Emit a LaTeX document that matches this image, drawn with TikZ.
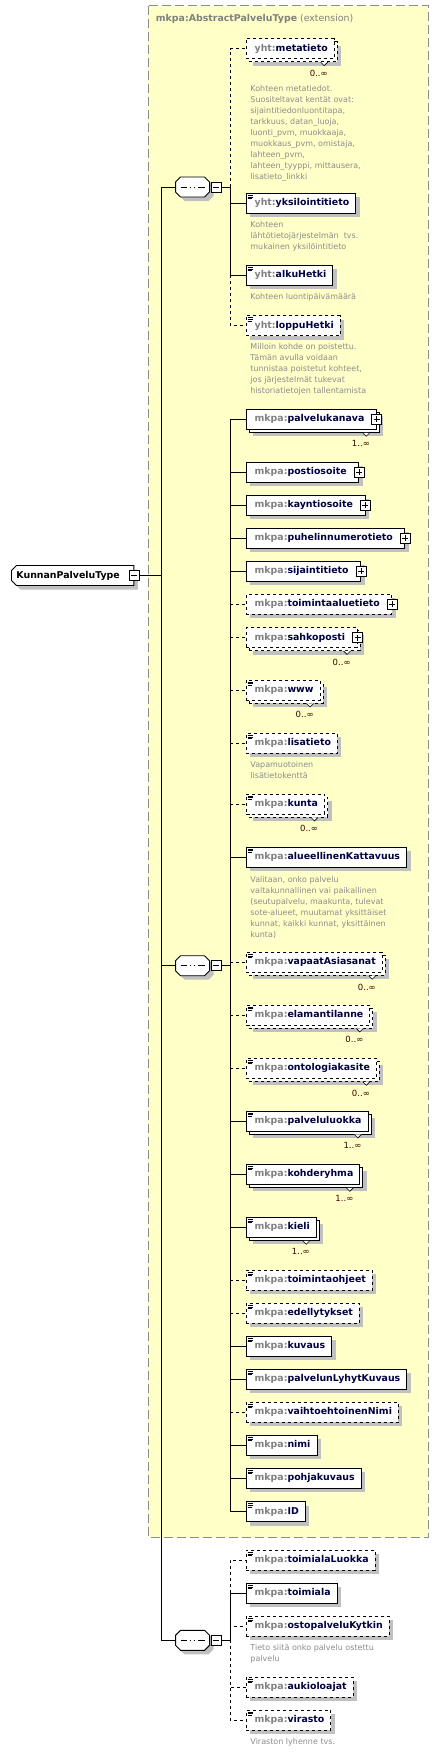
\documentclass[tikz,border=0pt]{standalone}
\usepackage{fontspec}
\setmainfont{DejaVu Sans}
\usepackage{tikz}
\usetikzlibrary{positioning,shapes.misc,shadows}

\definecolor{panel}{HTML}{FFFFC8}
\definecolor{panelline}{HTML}{8C8C8C}
\definecolor{shade}{HTML}{C0C0C0}
\definecolor{prefix}{HTML}{808080}
\definecolor{elemtext}{HTML}{000040}
\definecolor{doctext}{HTML}{8C8C8C}
\definecolor{cardtext}{HTML}{400000}

\newcommand{\mkpa}[1]{\textcolor{prefix}{mkpa:}#1}
\newcommand{\yht}[1]{\textcolor{prefix}{yht:}#1}

\begin{document}
\begin{tikzpicture}[x=1pt,y=-1pt,line width=0.9pt,
    elem/.style={draw,fill=white,anchor=west,minimum height=20pt,inner xsep=6.5pt,inner ysep=0pt,
        text=elemtext,font=\fontsize{9.4}{11}\selectfont\bfseries,execute at begin node={\hspace*{2pt}}},
    opt/.style={dashed},
    single/.style={drop shadow={shadow xshift=4pt,shadow yshift=-4pt,opacity=1,fill=shade}},
    multi/.style={drop shadow={shadow xshift=7pt,shadow yshift=-7pt,opacity=1,fill=shade},
        copy shadow={shadow xshift=3pt,shadow yshift=-3pt,fill=white,draw=black,#1}},
    multi/.default=solid,
    haskids/.style={execute at end node={\hspace*{5.5pt}}},
    simple/.style={path picture={\draw[solid,line width=0.5pt]
        ([shift={(1.5pt,-1.8pt)}]path picture bounding box.north west) -- ++(5.5pt,0pt)
        ([shift={(1.5pt,-3.6pt)}]path picture bounding box.north west) -- ++(5.5pt,0pt)
        ([shift={(1.5pt,-5.4pt)}]path picture bounding box.north west) -- ++(4pt,0pt);}},
    card/.style={anchor=north east,xshift=-6.5pt,yshift=-10.5pt,inner sep=0pt,text=cardtext,
        font=\fontsize{8.5}{10}\selectfont},
    doc/.style={anchor=north west,inner sep=0pt,align=left,text=doctext,font=\fontsize{8}{11}\selectfont},
    plusbox/.style={draw,solid,fill=white,minimum size=10pt,inner sep=0pt,line width=0.7pt,
        path picture={\draw ([xshift=2pt]path picture bounding box.west) -- ([xshift=-2pt]path picture bounding box.east)
            ([yshift=-2pt]path picture bounding box.north) -- ([yshift=2pt]path picture bounding box.south);}},
    minusbox/.style={draw,fill=white,minimum size=10pt,inner sep=0pt,line width=0.7pt,
        path picture={\draw ([xshift=2pt]path picture bounding box.west) -- ([xshift=-2pt]path picture bounding box.east);}},
    vmark/.style={solid,line width=0.6pt,fill=white},
    root/.style={chamfered rectangle,chamfered rectangle corners={north west,south west},chamfered rectangle xsep=2pt,
        chamfered rectangle ysep=3pt,draw,fill=white,anchor=west,minimum height=20pt,inner xsep=3pt,inner ysep=0pt,
        font=\fontsize{9.4}{11}\selectfont\bfseries,execute at end node={\hspace*{9pt}},
        drop shadow={shadow xshift=4pt,shadow yshift=-4pt,opacity=1,fill=shade}},
    seq/.style={minimum width=34pt,minimum height=20pt,inner sep=0pt},
    seqline/.style={draw,fill=white,
        drop shadow={shadow xshift=4pt,shadow yshift=-4pt,opacity=1,fill=shade},
        path picture={\draw[line width=0.7pt] ([xshift=5pt]path picture bounding box.west) -- ([xshift=-5pt]path picture bounding box.east);
            \fill ([xshift=-4pt]path picture bounding box.center) +(-1.4pt,-1.4pt) rectangle +(1.4pt,1.4pt);
            \fill (path picture bounding box.center) +(-1.4pt,-1.4pt) rectangle +(1.4pt,1.4pt);
            \fill ([xshift=4pt]path picture bounding box.center) +(-1.4pt,-1.4pt) rectangle +(1.4pt,1.4pt);}}]

    \useasboundingbox (0,0) rectangle (439,1753);

    % extension panel
    \fill[panel] (148.3,5.7) rectangle (428.3,1537.3);
    \draw[panelline,line width=1pt,dash pattern=on 9pt off 4pt] (148.3,5.7) rectangle (428.3,1537.3);
    \node[anchor=west,inner sep=0pt,text=prefix,font=\fontsize{9.4}{11}\selectfont] (title) at (155.5,19)
        {\textbf{mkpa:AbstractPalveluType} (extension)};

    % root and sequences
    \node[root] (kpt) at (11,575.5) {KunnanPalveluType};
    \node[minusbox] (kptm) at (kpt.east) {};
    \node[seq] (seqA) at (193,187) {};
    \node[seq] (seqB) at (193,965.7) {};
    \node[seq] (seqC) at (193,1640.3) {};
    \filldraw[seqline] (seqA.west) ++(0,-5) -- ++(5,-5) -- ++(24,0) -- ++(5,5) -- ++(0,10) -- ++(-5,5) -- ++(-24,0) -- ++(-5,-5) -- cycle;
    \filldraw[seqline] (seqB.west) ++(0,-5) -- ++(5,-5) -- ++(24,0) -- ++(5,5) -- ++(0,10) -- ++(-5,5) -- ++(-24,0) -- ++(-5,-5) -- cycle;
    \filldraw[seqline] (seqC.west) ++(0,-5) -- ++(5,-5) -- ++(24,0) -- ++(5,5) -- ++(0,10) -- ++(-5,5) -- ++(-24,0) -- ++(-5,-5) -- cycle;
    \node[minusbox,right=0.3pt of seqA] (seqAm) {};
    \node[minusbox,right=0.3pt of seqB] (seqBm) {};
    \node[minusbox,right=0.3pt of seqC] (seqCm) {};

    \coordinate (trunk) at (161,575.5);
    \coordinate (jA) at (230,187);
    \coordinate (jB) at (230,965.7);
    \coordinate (jC) at (230,1640.3);

    % first sequence
    \node[elem,opt,multi=dashed,label={[card]south east:0..∞}] (metatieto) at (245.7,48.7) {\yht{metatieto}};
    \node[elem,single,simple] (yksilointitieto) at (245.7,203.3) {\yht{yksilointitieto}};
    \node[elem,single,simple] (alkuHetki) at (245.7,275.3) {\yht{alkuHetki}};
    \node[elem,opt,single,simple] (loppuHetki) at (245.7,325.5) {\yht{loppuHetki}};

    \node[doc,below right=25.5pt and 4.3pt of metatieto.south west] (metatietoDoc)
        {Kohteen metatiedot.\\Suositeltavat kentät ovat:\\sijaintitiedonluontitapa,\\tarkkuus, datan\_luoja,\\luonti\_pvm, muokkaaja,\\muokkaus\_pvm, omistaja,\\lahteen\_pvm,\\lahteen\_tyyppi, mittausera,\\lisatieto\_linkki};
    \node[doc,below right=7.5pt and 4.3pt of yksilointitieto.south west] (yksilointitietoDoc)
        {Kohteen\\lähtötietojärjestelmän\ \ tvs.\\mukainen yksilöintitieto};
    \node[doc,below right=7.5pt and 4.3pt of alkuHetki.south west] (alkuHetkiDoc) {Kohteen luontipäivämäärä};
    \node[doc,below right=7.5pt and 4.3pt of loppuHetki.south west] (loppuHetkiDoc)
        {Milloin kohde on poistettu.\\Tämän avulla voidaan\\tunnistaa poistetut kohteet,\\jos järjestelmät tukevat\\historiatietojen tallentamista};

    % second sequence
    \node[elem,multi,haskids,label={[card]south east:1..∞}] (palvelukanava) at (245.7,419.3) {\mkpa{palvelukanava}};
    \node[elem,single,haskids] (postiosoite) at (245.7,472.3) {\mkpa{postiosoite}};
    \node[elem,single,haskids] (kayntiosoite) at (245.7,505.3) {\mkpa{kayntiosoite}};
    \node[elem,single,haskids] (puhelinnumerotieto) at (245.7,538.3) {\mkpa{puhelinnumerotieto}};
    \node[elem,single,haskids] (sijaintitieto) at (245.7,571.3) {\mkpa{sijaintitieto}};
    \node[elem,opt,single,haskids] (toimintaaluetieto) at (245.7,604.3) {\mkpa{toimintaaluetieto}};
    \node[elem,opt,multi=dashed,haskids,label={[card]south east:0..∞}] (sahkoposti) at (245.7,637.5) {\mkpa{sahkoposti}};
    \node[elem,opt,multi=dashed,simple,label={[card]south east:0..∞}] (www) at (245.7,690) {\mkpa{www}};
    \node[elem,opt,single,simple] (lisatieto) at (245.7,743.3) {\mkpa{lisatieto}};
    \node[elem,opt,multi=dashed,simple,label={[card]south east:0..∞}] (kunta) at (245.7,804) {\mkpa{kunta}};
    \node[elem,single,simple] (alueellinenKattavuus) at (245.7,857) {\mkpa{alueellinenKattavuus}};
    \node[elem,opt,multi=dashed,simple,label={[card]south east:0..∞}] (vapaatAsiasanat) at (245.7,962.3) {\mkpa{vapaatAsiasanat}};
    \node[elem,opt,multi=dashed,simple,label={[card]south east:0..∞}] (elamantilanne) at (245.7,1015) {\mkpa{elamantilanne}};
    \node[elem,opt,multi=dashed,simple,label={[card]south east:0..∞}] (ontologiakasite) at (245.7,1068.3) {\mkpa{ontologiakasite}};
    \node[elem,multi,simple,label={[card]south east:1..∞}] (palveluluokka) at (245.7,1121) {\mkpa{palveluluokka}};
    \node[elem,multi,simple,label={[card]south east:1..∞}] (kohderyhma) at (245.7,1174.3) {\mkpa{kohderyhma}};
    \node[elem,multi,simple,label={[card]south east:1..∞}] (kieli) at (245.7,1227.3) {\mkpa{kieli}};
    \node[elem,opt,single,simple] (toimintaohjeet) at (245.7,1280.3) {\mkpa{toimintaohjeet}};
    \node[elem,opt,single,simple] (edellytykset) at (245.7,1313.3) {\mkpa{edellytykset}};
    \node[elem,single,simple] (kuvaus) at (245.7,1346.3) {\mkpa{kuvaus}};
    \node[elem,single,simple] (palvelunLyhytKuvaus) at (245.7,1379.3) {\mkpa{palvelunLyhytKuvaus}};
    \node[elem,opt,single,simple] (vaihtoehtoinenNimi) at (245.7,1412.3) {\mkpa{vaihtoehtoinenNimi}};
    \node[elem,single,simple] (nimi) at (245.7,1445.3) {\mkpa{nimi}};
    \node[elem,single,simple] (pohjakuvaus) at (245.7,1478.3) {\mkpa{pohjakuvaus}};
    \node[elem,single,simple] (ID) at (245.7,1511.7) {\mkpa{ID}};

    \node[doc,below right=7.5pt and 4.3pt of lisatieto.south west] (lisatietoDoc) {Vapamuotoinen\\lisätietokenttä};
    \node[doc,below right=8.5pt and 4.3pt of alueellinenKattavuus.south west] (alueellinenKattavuusDoc)
        {Valitaan, onko palvelu\\valtakunnallinen vai paikallinen\\(seutupalvelu, maakunta, tulevat\\sote-alueet, muutamat yksittäiset\\kunnat, kaikki kunnat, yksittäinen\\kunta)};

    % third sequence
    \node[elem,opt,single,simple] (toimialaLuokka) at (245.7,1560.3) {\mkpa{toimialaLuokka}};
    \node[elem,single,simple] (toimiala) at (245.7,1593.3) {\mkpa{toimiala}};
    \node[elem,opt,single,simple] (ostopalveluKytkin) at (245.7,1626.3) {\mkpa{ostopalveluKytkin}};
    \node[elem,opt,single,simple] (aukioloajat) at (245.7,1687.3) {\mkpa{aukioloajat}};
    \node[elem,opt,single,simple] (virasto) at (245.7,1720) {\mkpa{virasto}};

    \node[doc,below right=7.5pt and 4.3pt of ostopalveluKytkin.south west] (ostopalveluKytkinDoc)
        {Tieto siitä onko palvelu ostettu\\palvelu};
    \node[doc,below right=7.5pt and 4.3pt of virasto.south west] (virastoDoc) {Viraston lyhenne tvs.};

    % expand boxes
    \node[plusbox] (palvelukanavaP) at (palvelukanava.east) {};
    \node[plusbox] (postiosoiteP) at (postiosoite.east) {};
    \node[plusbox] (kayntiosoiteP) at (kayntiosoite.east) {};
    \node[plusbox] (puhelinnumerotietoP) at (puhelinnumerotieto.east) {};
    \node[plusbox] (sijaintitietoP) at (sijaintitieto.east) {};
    \node[plusbox] (toimintaaluetietoP) at (toimintaaluetieto.east) {};
    \node[plusbox] (sahkopostiP) at (sahkoposti.east) {};

    % repeat marks
    \filldraw[vmark] ([xshift=-14pt,yshift=-3pt]metatieto.south east) -- ++(3.5,3.5) -- ++(3.5,-3.5);
    \filldraw[vmark] ([xshift=-14pt,yshift=-3pt]palvelukanava.south east) -- ++(3.5,3.5) -- ++(3.5,-3.5);
    \filldraw[vmark] ([xshift=-14pt,yshift=-3pt]sahkoposti.south east) -- ++(3.5,3.5) -- ++(3.5,-3.5);
    \filldraw[vmark] ([xshift=-14pt,yshift=-3pt]www.south east) -- ++(3.5,3.5) -- ++(3.5,-3.5);
    \filldraw[vmark] ([xshift=-14pt,yshift=-3pt]kunta.south east) -- ++(3.5,3.5) -- ++(3.5,-3.5);
    \filldraw[vmark] ([xshift=-14pt,yshift=-3pt]vapaatAsiasanat.south east) -- ++(3.5,3.5) -- ++(3.5,-3.5);
    \filldraw[vmark] ([xshift=-14pt,yshift=-3pt]elamantilanne.south east) -- ++(3.5,3.5) -- ++(3.5,-3.5);
    \filldraw[vmark] ([xshift=-14pt,yshift=-3pt]ontologiakasite.south east) -- ++(3.5,3.5) -- ++(3.5,-3.5);
    \filldraw[vmark] ([xshift=-14pt,yshift=-3pt]palveluluokka.south east) -- ++(3.5,3.5) -- ++(3.5,-3.5);
    \filldraw[vmark] ([xshift=-14pt,yshift=-3pt]kohderyhma.south east) -- ++(3.5,3.5) -- ++(3.5,-3.5);
    \filldraw[vmark] ([xshift=-14pt,yshift=-3pt]kieli.south east) -- ++(3.5,3.5) -- ++(3.5,-3.5);

    % connectors
    \draw (kptm.east) -- (trunk);
    \draw (trunk) |- (seqA.west);
    \draw (trunk) |- (seqB.west);
    \draw (trunk) |- (seqC.west);
    \draw (seqAm.east) -- (jA);
    \draw (seqBm.east) -- (jB);
    \draw (seqCm.east) -- (jC);

    \draw[opt] (jA) |- (metatieto.west);
    \draw (jA) |- (yksilointitieto.west);
    \draw (jA) |- (alkuHetki.west);
    \draw[opt] (alkuHetki.west -| jA) |- (loppuHetki.west);

    \draw (jB) |- (palvelukanava.west);
    \draw (jB) |- (postiosoite.west);
    \draw (jB) |- (kayntiosoite.west);
    \draw (jB) |- (puhelinnumerotieto.west);
    \draw (jB) |- (sijaintitieto.west);
    \draw[opt] (toimintaaluetieto.west -| jB) -- (toimintaaluetieto.west);
    \draw[opt] (sahkoposti.west -| jB) -- (sahkoposti.west);
    \draw[opt] (www.west -| jB) -- (www.west);
    \draw[opt] (lisatieto.west -| jB) -- (lisatieto.west);
    \draw[opt] (kunta.west -| jB) -- (kunta.west);
    \draw (jB) |- (alueellinenKattavuus.west);
    \draw[opt] (vapaatAsiasanat.west -| jB) -- (vapaatAsiasanat.west);
    \draw[opt] (elamantilanne.west -| jB) -- (elamantilanne.west);
    \draw[opt] (ontologiakasite.west -| jB) -- (ontologiakasite.west);
    \draw (jB) |- (palveluluokka.west);
    \draw (jB) |- (kohderyhma.west);
    \draw (jB) |- (kieli.west);
    \draw[opt] (toimintaohjeet.west -| jB) -- (toimintaohjeet.west);
    \draw[opt] (edellytykset.west -| jB) -- (edellytykset.west);
    \draw (jB) |- (kuvaus.west);
    \draw (jB) |- (palvelunLyhytKuvaus.west);
    \draw[opt] (vaihtoehtoinenNimi.west -| jB) -- (vaihtoehtoinenNimi.west);
    \draw (jB) |- (nimi.west);
    \draw (jB) |- (pohjakuvaus.west);
    \draw (jB) |- (ID.west);

    \draw[opt] (toimiala.west -| jC) |- (toimialaLuokka.west);
    \draw (jC) |- (toimiala.west);
    \draw[opt] (jC) |- (ostopalveluKytkin.west);
    \draw[opt] (jC) |- (aukioloajat.west);
    \draw[opt] (jC) |- (virasto.west);

\end{tikzpicture}
\end{document}
